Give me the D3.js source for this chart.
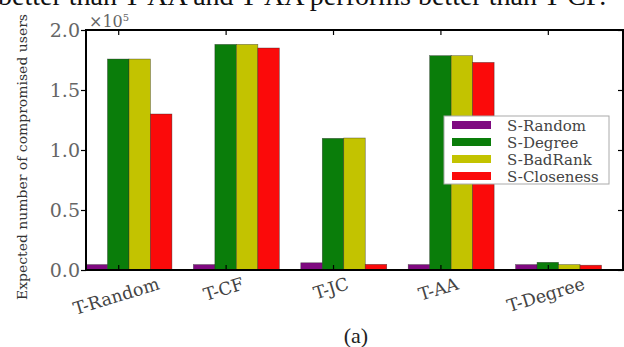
<!DOCTYPE html>
<html><head><meta charset="utf-8">
<script src="https://cdn.jsdelivr.net/npm/d3@7"></script>
<style>body{margin:0;background:#fff}svg{display:block}</style>
</head><body>
<svg id="c" width="624" height="347"></svg>
<script>
const categories = ["T-Random","T-CF","T-JC","T-AA","T-Degree"];
const seriesNames = ["S-Random","S-Degree","S-BadRank","S-Closeness"];
const sRandom    = [0.045, 0.045, 0.06, 0.045, 0.045];
const sDegree    = [1.758, 1.88, 1.097, 1.786, 0.064];
const sBadRank   = [1.758, 1.88, 1.10, 1.786, 0.045];
const sCloseness = [1.30, 1.85, 0.047, 1.73, 0.04];
const colors = ["#7f0a80","#0a7d0a","#c3c300","#fb0a0a"];
const yTicks = [0, 0.5, 1.0, 1.5, 2.0];
const series = [sRandom, sDegree, sBadRank, sCloseness];

const svg = d3.select("#c");
const L = 86, R = 623, T = 30, B = 270;
const x = d3.scaleLinear().domain([0, 5]).range([L, R]);
const y = d3.scaleLinear().domain([0, 2]).range([B, T]);
const bw = 0.2;

// caption cut at top
svg.append("text").attr("x", -2).attr("y", 5).attr("font-family","Liberation Serif")
  .attr("font-size", 28).attr("fill","#111").text("better than T-AA and T-AA performs better than T-CF.");

// bars
series.forEach((s, k) => {
  svg.append("g").selectAll("rect").data(s).join("rect")
    .attr("x", (d,i) => x(i + k*bw))
    .attr("width", x(bw) - x(0))
    .attr("y", d => y(d))
    .attr("height", d => y(0) - y(d))
    .attr("fill", colors[k])
    .attr("stroke", "#222").attr("stroke-width", 0.6).attr("stroke-opacity",0.6);
});

// frame
svg.append("rect").attr("x", L).attr("y", T).attr("width", R-L).attr("height", B-T)
  .attr("fill","none").attr("stroke","#000").attr("stroke-width",2);

// y axis ticks: left outward, right inward
const yAxisL = d3.axisLeft(y).tickValues(yTicks).tickSize(5).tickFormat("");
svg.append("g").attr("transform",`translate(${L},0)`).call(yAxisL).call(g=>g.select(".domain").remove())
  .selectAll("line").attr("stroke","#000").attr("stroke-width",1.2);
const yAxisR = d3.axisLeft(y).tickValues(yTicks).tickSize(5).tickFormat("");
svg.append("g").attr("transform",`translate(${R},0)`).call(yAxisR).call(g=>g.select(".domain").remove())
  .selectAll("line").attr("stroke","#000").attr("stroke-width",1.2);

// y tick labels
svg.append("g").selectAll("text").data(yTicks).join("text")
  .attr("x", L - 6).attr("y", d => y(d) + 7)
  .attr("text-anchor","end").attr("font-family","DejaVu Serif").attr("font-size",19)
  .attr("fill","#666").text(d => d.toFixed(1));

// x ticks top & bottom (inward)
const tickPos = categories.map((c,i) => i + 1.5*bw);
const xb = d3.axisTop(x).tickValues(tickPos).tickSize(5).tickFormat("");
svg.append("g").attr("transform",`translate(0,${B})`).call(xb).call(g=>g.select(".domain").remove())
  .selectAll("line").attr("stroke","#000").attr("stroke-width",1.2);
const xt = d3.axisBottom(x).tickValues(tickPos).tickSize(5).tickFormat("");
svg.append("g").attr("transform",`translate(0,${T})`).call(xt).call(g=>g.select(".domain").remove())
  .selectAll("line").attr("stroke","#000").attr("stroke-width",1.2);

// x tick labels rotated, centered on tick, bbox top aligned
const ang = 17, rad = ang*Math.PI/180, fs = 17.5, hgt = 13;
const xl = svg.append("g").selectAll("text").data(categories).join("text")
  .attr("text-anchor","middle").attr("dominant-baseline","central")
  .attr("font-family","DejaVu Serif").attr("font-size",fs)
  .attr("fill","#444").text(d => d);
xl.attr("transform", function(d,i){
  const len = this.getComputedTextLength();
  const ext = len*Math.sin(rad) + hgt*Math.cos(rad);
  return `translate(${x(tickPos[i]) - 2},${277 + ext/2}) rotate(${-ang})`;
});

// multiplier
const mult = svg.append("text").attr("x", 89).attr("y", 27).attr("font-family","DejaVu Serif")
  .attr("font-size",16).attr("fill","#666");
mult.append("tspan").text("×10");
mult.append("tspan").attr("dy",-6).attr("font-size",10).text("5");

// y label
svg.append("text").attr("transform",`translate(27,157) rotate(-90)`)
  .attr("text-anchor","middle").attr("font-family","DejaVu Serif").attr("font-size",13.5)
  .attr("fill","#333").attr("textLength",286).attr("lengthAdjust","spacingAndGlyphs")
  .text("Expected number of compromised users");

// legend
const lg = svg.append("g").attr("transform","translate(444,116)");
lg.append("rect").attr("width",165).attr("height",68).attr("fill","#fff").attr("stroke","#aaa").attr("stroke-width",1);
seriesNames.forEach((n,k) => {
  lg.append("rect").attr("x",8).attr("y",5 + k*17).attr("width",39).attr("height",8).attr("fill",colors[k]);
  lg.append("text").attr("x",63).attr("y",14.5 + k*17).attr("font-family","DejaVu Serif")
    .attr("font-size",15).attr("fill","#444").text(n);
});

// sub caption
svg.append("text").attr("x",356).attr("y",343).attr("text-anchor","middle").attr("font-family","Liberation Serif")
  .attr("font-size",22).attr("fill","#222").text("(a)");
</script>
</body></html>
